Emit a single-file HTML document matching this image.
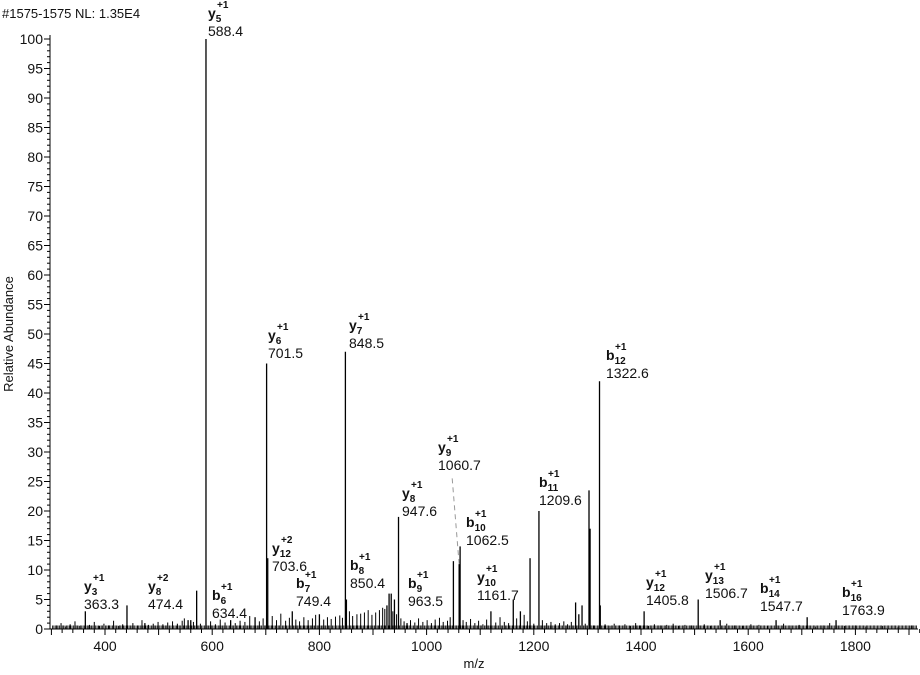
<!DOCTYPE html>
<html><head><meta charset="utf-8"><style>
html,body{margin:0;padding:0;background:#fff}
svg{display:block;font-family:"Liberation Sans",Arial,sans-serif}
</style></head><body>
<svg id="chart" width="920" height="675" viewBox="0 0 920 675" xmlns="http://www.w3.org/2000/svg">
<text x="2" y="18" font-size="13" fill="#111">#1575-1575 NL: 1.35E4</text>
<text transform="translate(13,334) rotate(-90)" text-anchor="middle" font-size="13" fill="#111">Relative Abundance</text>
<text x="474" y="668" text-anchor="middle" font-size="13" fill="#111">m/z</text>
<g id="axes"></g><g id="noise"></g><g id="peaks"></g><g id="ann"></g>
</svg>
<script>
const peakMz = [588.4,701.5,703.6,848.5,850.4,947.6,1050,1060.7,1062.5,1193,1209.6,1303,1305,1322.6,1324,363.3,441,474.4,571,634.4,749.4,930,934,940,926,963.5,1161.7,1175,1278,1284,1290,1405.8,1506.7,1547.7,1710,1763.9,555,560,680,800,1120,1652];
const peakInt = [100,45,12,47,5,19,11.5,11,14,12,20,23.5,17,42,4,3,4,1,6.5,1.5,3,6,6,5,4,1,5,3,4.5,2.5,4,3,5,1.5,2,1.5,1.5,1.5,2,2.5,3,1.5];
const noiseMz = [310,318,326,335,344,352,371,380,389,398,407,416,425,433,452,461,469,481,490,499,508,517,526,535,544,548,565,578,597,606,615,624,643,652,661,670,688,695,712,720,728,737,744,756,763,771,779,787,793,808,815,822,830,838,843,856,862,870,877,884,891,898,905,912,918,922,937,944,952,958,970,978,985,993,1001,1009,1016,1024,1031,1039,1044,1068,1074,1082,1090,1097,1105,1112,1129,1137,1145,1153,1168,1182,1188,1200,1216,1224,1232,1240,1248,1256,1263,1270,1296,1312,1333,1342,1350,1360,1370,1380,1390,1398,1414,1425,1436,1448,1460,1470,1482,1494,1518,1530,1560,1575,1590,1605,1620,1636,1666,1680,1695,1725,1740,1752,1780,1800,1820,1850,1880,1905];
const noiseInt = [0.6,1,0.4,0.8,1.3,0.5,0.7,1.2,0.5,0.9,0.6,1.4,0.5,0.8,1,0.6,1.5,0.7,0.9,1.2,0.8,1.1,1.3,0.9,1.4,1.8,1.2,0.9,1.3,0.8,1.6,1.1,1,1.4,1.2,2.2,1.3,1.8,2.2,1.5,2.6,1.4,1.9,1.6,1.3,2,1.5,1.8,2.4,1.6,2,1.7,2.1,2.3,1.9,3,2.2,2.5,2.6,2.8,3.2,2.4,2.8,3.2,3.6,3.4,3,2.5,1.8,1.3,1.5,1.1,1.8,1.2,1.5,1,1.6,1.9,1.2,1.4,2,1.5,1.2,1.7,1,1.4,0.8,1.6,1.1,2,1.2,1,1.8,2.4,1.3,0.9,1.5,1,1.2,0.8,1,1.3,0.8,1.2,0.9,0.6,0.8,0.5,0.9,0.6,0.8,0.5,1,0.6,0.5,0.8,0.6,0.7,0.9,0.5,0.7,0.6,0.8,0.5,0.9,0.6,0.5,0.8,0.7,0.5,0.9,0.6,0.7,0.4,0.6,1,0.5,0.6,0.4,0.5,0.3,0.6,0.5,0.4,0.7,0.5,0.4,0.6,0.3,0.5,0.4];
const xTicks = [400,600,800,1000,1200,1400,1600,1800];
const yTicks = [0,5,10,15,20,25,30,35,40,45,50,55,60,65,70,75,80,85,90,95,100];
const labIon = ['y','y','y','b','y','b','y','b','y','y','b','b','y','b','y','y','y','b','b','b'];
const labSub = ['5','6','7','12','9','11','8','10','12','3','8','7','8','6','10','12','13','9','14','16'];
const labCh = ['+1','+1','+1','+1','+1','+1','+1','+1','+2','+1','+1','+1','+2','+1','+1','+1','+1','+1','+1','+1'];
const labVal = ['588.4','701.5','848.5','1322.6','1060.7','1209.6','947.6','1062.5','703.6','363.3','850.4','749.4','474.4','634.4','1161.7','1405.8','1506.7','963.5','1547.7','1763.9'];
const labX = [208,268,349,606,438,539,402,466,272,84,350,296,148,212,477,646,705,408,760,842];
const labY = [18,340,330,360,452,487,498,527,553,591,570,588,591,600,582,587,580,588,593,597];

const X0=50,X1=918,Y0=629,Y1=39;
const x = m => 105 + (m-400)*0.536;
const y = v => Y0 - (v/100)*(Y0-Y1);
const NS="http://www.w3.org/2000/svg";
function mk(tag, attrs, parent){const e=document.createElementNS(NS,tag);for(const k in attrs)e.setAttribute(k,attrs[k]);parent.appendChild(e);return e;}
const axes=document.getElementById('axes');
let e=mk('line',{x1:X0,y1:Y0,x2:X1,y2:Y0,stroke:'#000','stroke-width':1},axes);

e=mk('line',{x1:X0,y1:Y0,x2:X0,y2:Y1-4,stroke:'#000','stroke-width':1},axes);

for(let m=300;m<=1920;m+=20){const big=m%100===0;mk('line',{x1:x(m),y1:Y0,x2:x(m),y2:Y0+(big?6:4),stroke:'#000'},axes);}
xTicks.forEach(t=>{const te=mk('text',{x:x(t),y:Y0+22,'text-anchor':'middle','font-size':14,fill:'#111'},axes);te.textContent=t;
});
for(let v=0;v<=100;v++){const big=v%5===0;mk('line',{x1:X0-(big?6:3),y1:y(v),x2:X0,y2:y(v),stroke:'#000'},axes);}
yTicks.forEach(t=>{const te=mk('text',{x:X0-7,y:y(t)+5,'text-anchor':'end','font-size':14,fill:'#111'},axes);te.textContent=t;
});
const ng=document.getElementById('noise');
for(let m=302;m<1915;m+=2.6){mk('line',{x1:x(m),y1:Y0,x2:x(m),y2:y(0.6),stroke:'#000','stroke-width':0.8},ng);}
noiseMz.forEach((m,i)=>{const v=noiseInt[i];if(v===undefined)return;
const l=mk('line',{x1:x(m),y1:Y0,x2:x(m),y2:y(v),stroke:'#000','stroke-width':1},ng);
});
const pg=document.getElementById('peaks');
peakMz.forEach((m,i)=>{const l=mk('line',{x1:x(m),y1:Y0,x2:x(m),y2:y(peakInt[i]),stroke:'#000','stroke-width':1.3},pg);
});
const ag=document.getElementById('ann');
labVal.forEach((v,i)=>{
  const g=mk('g',{},ag);
  
  
  const t=mk('text',{x:labX[i],y:labY[i],'font-size':14,'font-weight':'bold',fill:'#111'},g);
  t.textContent=labIon[i];
  const s=mk('tspan',{'font-size':10,dy:4},t);s.textContent=labSub[i];
  const c=mk('text',{x:labX[i]+9,y:labY[i]-10,'font-size':10,'font-weight':'bold',fill:'#111'},g);c.textContent=labCh[i];
  const vt=mk('text',{x:labX[i],y:labY[i]+18,'font-size':14,fill:'#111'},g);vt.textContent=v;
  const pm=parseFloat(v);
  const j=peakMz.findIndex(p=>Math.abs(p-pm)<0.05);
  if(j>=0){const py=y(peakInt[j]),ly=labY[i]+24;
    if(py-ly>12){mk('line',{x1:x(pm),y1:py,x2:labX[i]+14,y2:ly,stroke:'#999','stroke-dasharray':'5,4','stroke-width':1},g);}}
});
</script>
</body></html>
